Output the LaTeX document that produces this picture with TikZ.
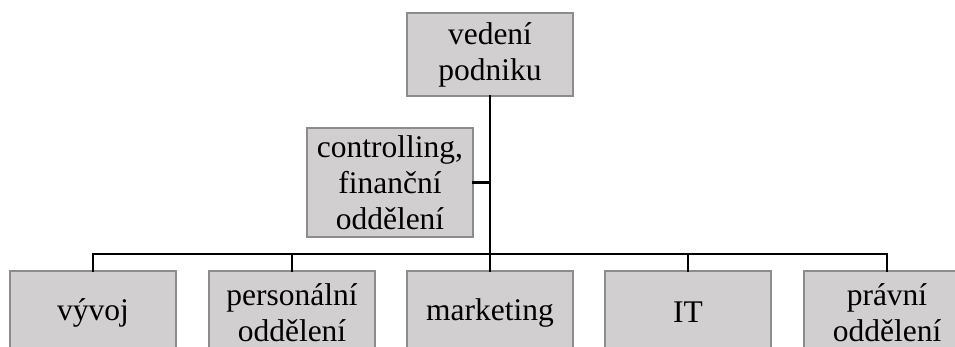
\documentclass[tikz,border=0pt]{standalone}
\usepackage{fontspec}
\setmainfont{Liberation Serif}
\usepackage{tikz}
\usetikzlibrary{calc}

\definecolor{boxgray}{RGB}{210,207,208}
\definecolor{edgegray}{RGB}{140,140,140}

\begin{document}
\begin{tikzpicture}[x=0.025cm, y=-0.025cm,
    unit/.style={draw=edgegray, line width=0.9pt, fill=boxgray,
        minimum width=4.15cm, minimum height=2.075cm, inner sep=0pt,
        align=center, font=\fontsize{22.4}{25.5}\selectfont},
    link/.style={line width=2pt, line cap=rect}]

    %% Background
    \useasboundingbox (0,0) rectangle (955,347);
    \clip (0,0) rectangle (955,347);

    % Top
    \node[unit] (vedeni) at (490,54.5) {vedení\\podniku};
    \node[unit, minimum height=2.725cm] (ctrl) at (390,182.5)
        {controlling,\\finanční\\oddělení};

    % Departments
    \node[unit] (vyvoj) at (93,312.5) {vývoj};
    \node[unit] (personal) at (292,312.5) {personální\\oddělení};
    \node[unit] (marketing) at (490,312.5) {marketing};
    \node[unit] (it) at (688,312.5) {IT};
    \node[unit] (pravni) at (887,312.5) {právní\\oddělení};

    % Lines
    \coordinate (bus) at (490,254);
    \draw[link] (vedeni.south) -- (bus);
    \draw[link] (ctrl.east) -- (ctrl.east -| bus);
    \draw[link] (vyvoj.north) |- (bus) -| (pravni.north);
    \draw[link]
    (personal.north) -- (personal.north |- bus)
    (marketing.north) -- (bus)
    (it.north) -- (it.north |- bus)
    ;

\end{tikzpicture}
\end{document}
